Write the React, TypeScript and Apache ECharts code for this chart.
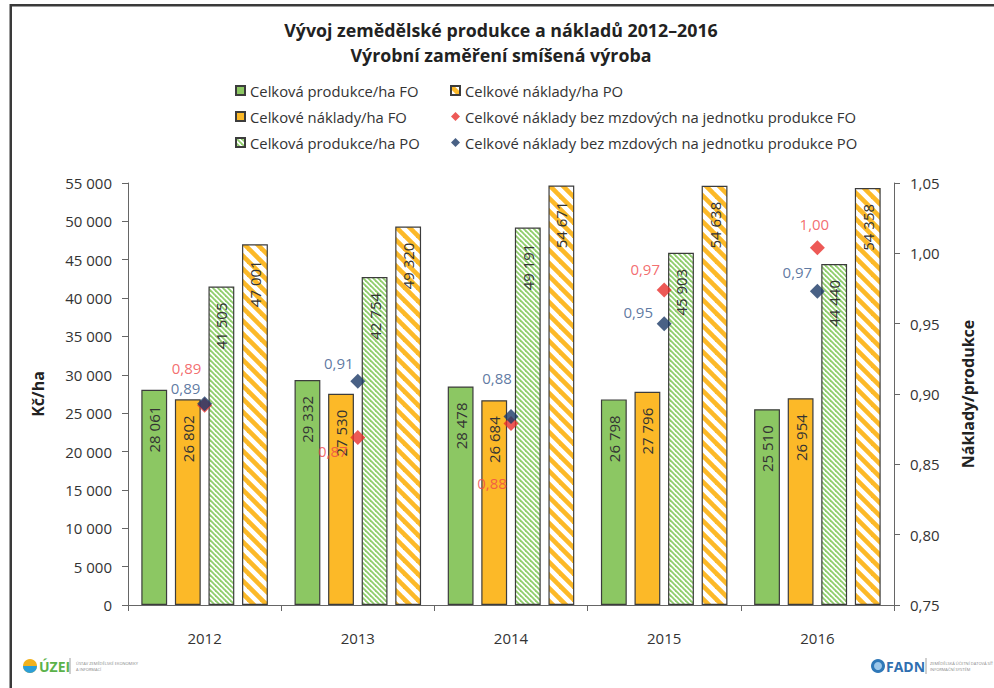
import React, { useEffect, useRef } from "react";
import * as echarts from "echarts";

const years = ["2012", "2013", "2014", "2015", "2016"];
const prodFO = [28061, 29332, 28478, 26798, 25510];
const costFO = [26802, 27530, 26684, 27796, 26954];
const prodPO = [41505, 42754, 49191, 45903, 44440];
const costPO = [47001, 49320, 54671, 54638, 54358];
const ratioFO = [0.892, 0.869, 0.879, 0.974, 1.004];
const ratioPO = [0.893, 0.909, 0.884, 0.95, 0.973];

const nameProdFO = "Celková produkce/ha FO";
const nameCostFO = "Celkové náklady/ha FO";
const nameProdPO = "Celková produkce/ha PO";
const nameCostPO = "Celkové náklady/ha PO";
const nameRatioFO = "Celkové náklady bez mzdových na jednotku produkce FO";
const nameRatioPO = "Celkové náklady bez mzdových na jednotku produkce PO";

// label offsets (styling only)
const offFO = [[-18, -37], [-25, 13], [-19, 59], [-19, -21], [-3, -24]];
const offPO = [[-19, -16], [-19, -18], [-14, -39], [-26, -12], [-20, -19]];

const FONT = "'Open Sans', 'Noto Sans', sans-serif";

function fmtThousands(v: number) {
  return String(v).replace(/\B(?=(\d{3})+(?!\d))/g, " ");
}
function fmtRatio(v: number) {
  return v.toFixed(2).replace(".", ",");
}

function stripes(color: string, period: number, lw: number) {
  const c = document.createElement("canvas");
  c.width = period;
  c.height = period;
  const ctx = c.getContext("2d")!;
  ctx.fillStyle = "#ffffff";
  ctx.fillRect(0, 0, period, period);
  ctx.strokeStyle = color;
  ctx.lineWidth = lw;
  for (const k of [-1, 0, 1]) {
    ctx.beginPath();
    ctx.moveTo(k * period - period, -period);
    ctx.lineTo(k * period + 2 * period, 2 * period);
    ctx.stroke();
  }
  return {
    image: c.toDataURL(),
    repeat: "repeat",
    imageWidth: period,
    imageHeight: period,
  } as any;
}

export default function App() {
  const ref = useRef<HTMLDivElement>(null);
  useEffect(() => {
    if (!ref.current) return;
    const chart = echarts.init(ref.current, null, { renderer: "svg" });
    const green = "#8cc763";
    const orange = "#fcb928";
    const border = "#3c3c3c";
    const greenPat = stripes("#8fcd6c", 5, 1.8);
    const orangePat = stripes(orange, 13, 4.6);

    const barLabel = {
      show: true,
      position: "insideTop",
      rotate: 90,
      align: "right",
      verticalAlign: "middle",
      distance: 16,
      color: "#333",
      fontSize: 15,
      fontFamily: FONT,
      formatter: (p: any) => fmtThousands(p.value),
    };
    const barCommon = {
      type: "bar",
      barCategoryGap: "17.4%",
      barGap: "30%",
      label: barLabel,
    };

    const ratioData = (vals: number[], offs: number[][]) =>
      vals.map((v, i) => ({ value: v, label: { offset: offs[i] } }));

    const legendText = { fontSize: 14.8, color: "#333", fontFamily: FONT };

    const option: any = {
      animation: false,
      backgroundColor: "#ffffff",
      textStyle: { fontFamily: FONT },
      grid: { left: 128, right: 100, top: 183, bottom: 83 },
      legend: [
        {
          orient: "vertical",
          left: 230,
          top: 78,
          itemWidth: 9,
          itemHeight: 9,
          itemGap: 11,
          textStyle: legendText,
          data: [
            { name: nameProdFO, icon: "rect" },
            { name: nameCostFO, icon: "rect" },
            { name: nameProdPO, icon: "rect" },
          ],
        },
        {
          orient: "vertical",
          left: 445,
          top: 78,
          itemWidth: 9,
          itemHeight: 9,
          itemGap: 11,
          textStyle: legendText,
          data: [
            { name: nameCostPO, icon: "rect" },
            { name: nameRatioFO, icon: "diamond" },
            { name: nameRatioPO, icon: "diamond" },
          ],
        },
      ],
      xAxis: {
        type: "category",
        data: years,
        axisLine: { lineStyle: { color: "#666", width: 1 } },
        axisTick: { show: true, length: 6, lineStyle: { color: "#666" } },
        axisLabel: { color: "#333", fontSize: 15, margin: 25, fontFamily: FONT },
      },
      yAxis: [
        {
          type: "value",
          min: 0,
          max: 55000,
          interval: 5000,
          name: "Kč/ha",
          nameLocation: "middle",
          nameGap: 82,
          nameTextStyle: { fontSize: 16, fontWeight: "bold", color: "#222", fontFamily: FONT },
          axisLine: { show: true, lineStyle: { color: "#666" } },
          axisTick: { show: true, length: 6, lineStyle: { color: "#666" } },
          axisLabel: {
            color: "#333",
            fontSize: 15,
            margin: 16,
            fontFamily: FONT,
            formatter: (v: number) => fmtThousands(v),
          },
          splitLine: { show: false },
        },
        {
          type: "value",
          min: 0.75,
          max: 1.05,
          interval: 0.05,
          position: "right",
          name: "Náklady/produkce",
          nameLocation: "middle",
          nameGap: 66,
          nameRotate: 90,
          nameTextStyle: { fontSize: 16, fontWeight: "bold", color: "#222", fontFamily: FONT },
          axisLine: { show: true, lineStyle: { color: "#666" } },
          axisTick: { show: true, length: 6, lineStyle: { color: "#666" } },
          axisLabel: {
            color: "#333",
            fontSize: 15,
            margin: 16,
            fontFamily: FONT,
            formatter: (v: number) => fmtRatio(v),
          },
          splitLine: { show: false },
        },
      ],
      series: [
        {
          ...barCommon,
          name: nameProdFO,
          data: prodFO,
          itemStyle: { color: green, borderColor: border, borderWidth: 1.2 },
        },
        {
          ...barCommon,
          name: nameCostFO,
          data: costFO,
          itemStyle: { color: orange, borderColor: border, borderWidth: 1.2 },
        },
        {
          ...barCommon,
          name: nameProdPO,
          data: prodPO,
          itemStyle: { color: greenPat, borderColor: border, borderWidth: 1.2 },
        },
        {
          ...barCommon,
          name: nameCostPO,
          data: costPO,
          itemStyle: { color: orangePat, borderColor: border, borderWidth: 1.2 },
        },
        {
          type: "scatter",
          name: nameRatioFO,
          yAxisIndex: 1,
          symbol: "diamond",
          symbolSize: 15,
          itemStyle: { color: "#e8302c" },
          label: {
            show: true,
            position: "inside",
            align: "center",
            verticalAlign: "middle",
            color: "#f0484a",
            fontSize: 15,
            fontFamily: FONT,
            formatter: (p: any) => fmtRatio(p.value),
          },
          data: ratioData(ratioFO, offFO),
          z: 5,
        },
        {
          type: "scatter",
          name: nameRatioPO,
          yAxisIndex: 1,
          symbol: "diamond",
          symbolSize: 15,
          itemStyle: { color: "#1c3a66" },
          label: {
            show: true,
            position: "inside",
            align: "center",
            verticalAlign: "middle",
            color: "#35578a",
            fontSize: 15,
            fontFamily: FONT,
            formatter: (p: any) => fmtRatio(p.value),
          },
          data: ratioData(ratioPO, offPO),
          z: 6,
        },
      ],
      graphic: [
        { type: "rect", shape: { x: 10, y: 4, width: 984, height: 2.5 }, style: { fill: "#3a3a3a" } },
        { type: "rect", shape: { x: 9.5, y: 4, width: 2.5, height: 684 }, style: { fill: "#3a3a3a" } },
        {
          type: "text",
          style: {
            x: 501,
            y: 30,
            text: "Vývoj zemědělské produkce a nákladů 2012–2016",
            align: "center",
            verticalAlign: "middle",
            font: `bold 17.8px ${FONT}`,
            fill: "#222",
          },
        },
        {
          type: "text",
          style: {
            x: 501,
            y: 55,
            text: "Výrobní zaměření smíšená výroba",
            align: "center",
            verticalAlign: "middle",
            font: `bold 17.8px ${FONT}`,
            fill: "#222",
          },
        },
        // ÚZEI logo
        { type: "circle", shape: { cx: 30, cy: 666, r: 7 }, style: { fill: "#f3b21c" } },
        { type: "sector", shape: { cx: 30, cy: 666, r: 7, startAngle: 0, endAngle: Math.PI }, style: { fill: "#2b9fd8" } },
        {
          type: "text",
          style: { x: 39, y: 666, text: "ÚZEI", verticalAlign: "middle", font: `bold 14px ${FONT}`, fill: "#5bb24a" },
        },
        { type: "line", shape: { x1: 70, y1: 658, x2: 70, y2: 674 }, style: { stroke: "#888", lineWidth: 0.8 } },
        {
          type: "text",
          style: {
            x: 76,
            y: 666,
            text: "ÚSTAV ZEMĚDĚLSKÉ EKONOMIKY\nA INFORMACÍ",
            verticalAlign: "middle",
            font: `4px ${FONT}`,
            lineHeight: 6,
            fill: "#888",
          },
        },
        // FADN logo
        { type: "circle", shape: { cx: 878, cy: 666, r: 7 }, style: { fill: "#2f78b8" } },
        { type: "circle", shape: { cx: 878, cy: 666, r: 4 }, style: { fill: "#9cc7ea" } },
        {
          type: "text",
          style: { x: 886, y: 666, text: "FADN", verticalAlign: "middle", font: `bold 14px ${FONT}`, fill: "#2f6fb0" },
        },
        { type: "line", shape: { x1: 926, y1: 658, x2: 926, y2: 674 }, style: { stroke: "#888", lineWidth: 0.8 } },
        {
          type: "text",
          style: {
            x: 930,
            y: 666,
            text: "ZEMĚDĚLSKÁ ÚČETNÍ DATOVÁ SÍŤ\nINFORMAČNÍ SYSTÉM",
            verticalAlign: "middle",
            font: `4px ${FONT}`,
            lineHeight: 6,
            fill: "#888",
          },
        },
      ],
    };
    chart.setOption(option);
    return () => chart.dispose();
  }, []);
  return (
    <div
      ref={ref}
      style={{ position: "absolute", left: 0, top: 0, width: 994, height: 688, background: "#fff" }}
    />
  );
}
